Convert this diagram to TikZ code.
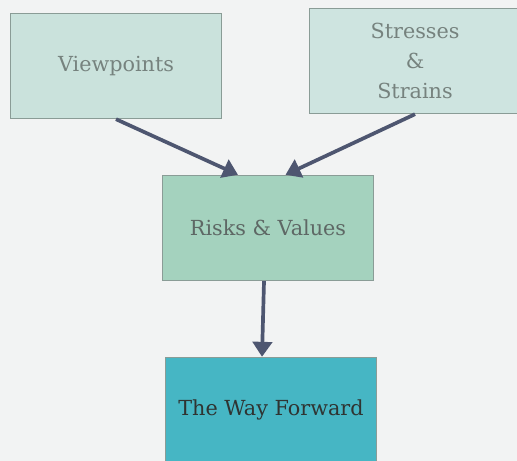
\documentclass[tikz,border=0pt]{standalone}
\usepackage{fontspec}
\setmainfont{DejaVu Serif}
\usepackage{xcolor}
\usepackage{tikz}
\usetikzlibrary{positioning, calc, arrows.meta}
\definecolor{pagegray}{RGB}{242, 243, 243}
\definecolor{paleteal}{RGB}{202, 226, 220}
\definecolor{paleteal2}{RGB}{206, 228, 224}
\definecolor{mintgreen}{RGB}{164, 210, 190}
\definecolor{deepcyan}{RGB}{70, 182, 196}
\definecolor{edgegray}{RGB}{138, 156, 150}
\definecolor{arrowslate}{RGB}{78, 86, 112}
\definecolor{textgray}{RGB}{118, 130, 126}

\tikzset{
    box/.style={draw=edgegray, line width=0.8pt, minimum width=4.22cm, minimum height=2.1cm,
        align=center, font=\fontsize{11.8}{17}\selectfont, text=textgray},
    link/.style={draw=arrowslate, line width=2.1pt, -{Triangle[width=11pt, length=8.5pt]}}
}

\begin{document}
\begin{tikzpicture}
        \useasboundingbox[fill=pagegray] (0,0) rectangle (10.34,9.22);
        % top row
        \node[box, fill=paleteal] (view) at (2.32,7.9) {Viewpoints};
        \node[box, fill=paleteal2] (stress) at (8.3,8.0) {Stresses\\\&\\Strains};
        % middle and bottom
        \node[box, fill=mintgreen, text=textgray!80!black] (risks) at (5.36,4.66) {Risks \& Values};
        \node[box, fill=deepcyan, text=textgray!40!black] (way) at (5.42,1.02) {The Way Forward};

        \draw[link] (view.south) -- ([xshift=-0.6cm]risks.north);
        \draw[link] (stress.south) -- ([xshift=0.35cm]risks.north);
        \draw[link] ([xshift=-0.08cm]risks.south) -- ([xshift=-0.18cm]way.north);
    \end{tikzpicture}
\end{document}
